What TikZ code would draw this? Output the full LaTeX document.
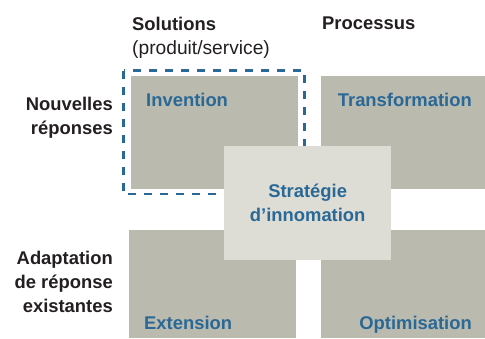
\documentclass[tikz,border=0pt]{standalone}
\usepackage{fontspec}
\setmainfont{Liberation Sans}
\begin{document}
\definecolor{cellgray}{HTML}{BBBAAE}
\definecolor{corelight}{HTML}{DDDDD5}
\definecolor{inkblue}{HTML}{2A6896}
\definecolor{inkdark}{HTML}{231F20}
\begin{tikzpicture}[x=1pt,y=-1pt,
  cell/.style={fill=cellgray, draw=none, anchor=north west, inner sep=0pt},
  core/.style={fill=corelight, draw=none, anchor=north west, inner sep=0pt},
  celltitle/.style={text=inkblue, font=\fontsize{18.4}{24}\selectfont\bfseries, inner sep=0pt},
  axistitle/.style={text=inkdark, font=\fontsize{18.4}{24}\selectfont\bfseries, inner sep=0pt},
  focus/.style={draw=inkblue, line width=2.6pt, dash pattern=on 8pt off 8pt}]
\useasboundingbox (0,0) rectangle (485,338);

% highlighted quadrant
\draw[focus] (123.5,70.5) rectangle (304.5,194);

% the four quadrants
\node[cell, minimum width=167pt, minimum height=113pt] (inv) at (131,76) {};
\node[cell, minimum width=164pt, minimum height=113pt] (tra) at (321,76) {};
\node[cell, minimum width=167pt, minimum height=108pt] (ext) at (129,230) {};
\node[cell, minimum width=164pt, minimum height=108pt] (opt) at (321,230) {};

% central block
\node[core, minimum width=167pt, minimum height=114pt] (strat) at (224,146) {};

% quadrant titles
\node[celltitle, anchor=base west] (invlbl) at (146,106) {Invention};
\node[celltitle, anchor=base east] (tralbl) at (472,106) {Transformation};
\node[celltitle, anchor=base west] (extlbl) at (144,329) {Extension};
\node[celltitle, anchor=base east] (optlbl) at (472,329) {Optimisation};
\node[celltitle, align=center] (stratlbl) at (strat.center) {Stratégie\\d’innomation};

% column headings
\node[axistitle, anchor=north west, align=left] (colsol) at (132,17)
  {Solutions\\{\fontsize{19.2}{24}\fontseries{m}\selectfont (produit/service)}};
\node[axistitle, anchor=north west] (colproc) at (322,17) {Processus};

% row headings
\node[axistitle, anchor=north east, align=right] (rownew) at (113,97) {Nouvelles\\réponses};
\node[axistitle, anchor=north east, align=right] (rowadapt) at (113,251) {Adaptation\\de réponse\\existantes};
\end{tikzpicture}
\end{document}
